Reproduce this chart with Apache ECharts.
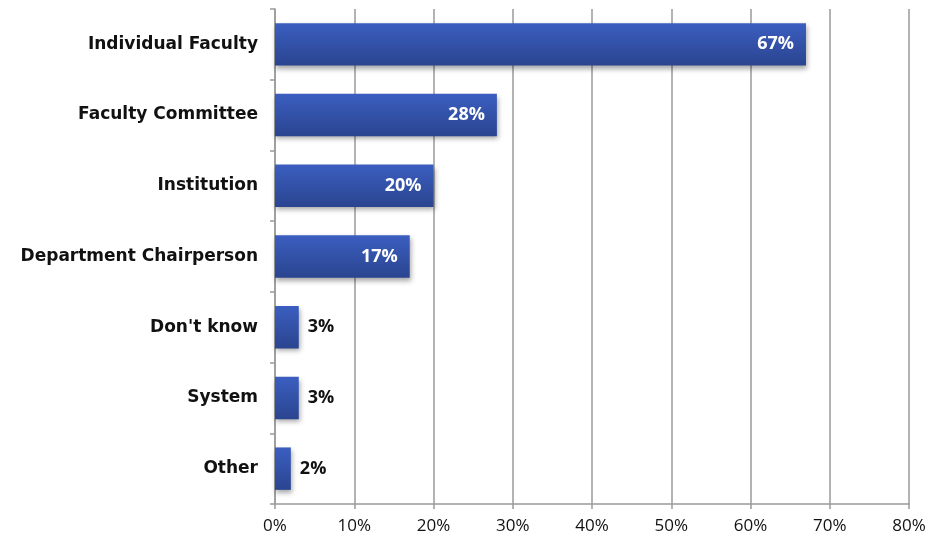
<!DOCTYPE html>
<html>
<head>
<meta charset="utf-8">
<script src="https://cdn.jsdelivr.net/npm/echarts@6/dist/echarts.min.js"></script>
<style>
  html, body { margin: 0; padding: 0; background: #fff; }
  #chart { width: 929px; height: 535px; }
</style>
</head>
<body>
<div id="chart"></div>
<script>
// Who decides: share of respondents per category (percent)
const categories = ['Individual Faculty', 'Faculty Committee', 'Institution', 'Department Chairperson', "Don't know", 'System', 'Other'];
const shares = [67, 28, 20, 17, 3, 3, 2];
const tickValues = [0, 10, 20, 30, 40, 50, 60, 70, 80];

const FONT = '"Open Sans", Lato, sans-serif';
const CAT_FONT = '"DejaVu Sans", "Open Sans", sans-serif';
const GRID_GRAY = '#9a9a9a';

const barData = shares.map(v => ({
  value: v,
  label: v >= 10
    ? { position: 'insideRight', distance: 12, color: '#ffffff' }
    : { position: 'right', distance: 9, color: '#111111' }
}));

const chart = echarts.init(document.getElementById('chart'), null, { renderer: 'canvas' });
chart.setOption({
  animation: false,
  backgroundColor: '#ffffff',
  grid: { left: 275, right: 20, top: 9, bottom: 31, containLabel: false },
  xAxis: {
    type: 'value',
    min: tickValues[0],
    max: tickValues[tickValues.length - 1],
    interval: tickValues[1] - tickValues[0],
    axisLine: { show: true, lineStyle: { color: GRID_GRAY, width: 1.5 } },
    axisTick: { show: true, length: 5, lineStyle: { color: GRID_GRAY, width: 1.5 } },
    splitLine: { show: true, lineStyle: { color: GRID_GRAY, width: 1.5 } },
    axisLabel: {
      formatter: '{value}%',
      color: '#111',
      fontFamily: FONT,
      fontSize: 17,
      margin: 14
    }
  },
  yAxis: {
    type: 'category',
    inverse: true,
    data: categories,
    axisLine: { show: true, lineStyle: { color: GRID_GRAY, width: 1.5 } },
    axisTick: { show: true, length: 5, alignWithLabel: false, lineStyle: { color: GRID_GRAY, width: 1.5 } },
    axisLabel: {
      color: '#111',
      fontFamily: CAT_FONT,
      fontWeight: 'bold',
      fontSize: 17,
      margin: 17
    }
  },
  series: [{
    type: 'bar',
    data: barData,
    barCategoryGap: '40%',
    itemStyle: {
      color: new echarts.graphic.LinearGradient(0, 0, 0, 1, [
        { offset: 0, color: '#3b5ec0' },
        { offset: 1, color: '#2a448f' }
      ]),
      shadowColor: 'rgba(0,0,0,0.35)',
      shadowBlur: 5,
      shadowOffsetX: 1,
      shadowOffsetY: 3
    },
    label: {
      show: true,
      formatter: '{c}%',
      fontFamily: FONT,
      fontWeight: 'bold',
      fontSize: 18
    }
  }]
});
</script>
</body>
</html>
